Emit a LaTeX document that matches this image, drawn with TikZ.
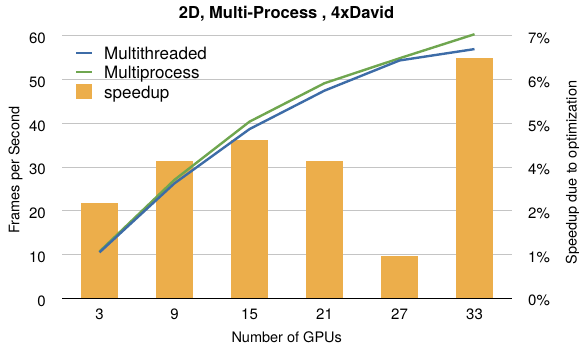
\documentclass[tikz,border=0pt]{standalone}
\usepackage{fontspec}
\setmainfont{TeX Gyre Heros}
\usepackage{tikz}
\usetikzlibrary{positioning}
\definecolor{mtblue}{HTML}{3D6CA7}
\definecolor{mpgreen}{HTML}{6FA64F}
\definecolor{spdorange}{HTML}{ECAE4B}
\definecolor{gridgray}{HTML}{C4C4C4}

\begin{document}
\begin{tikzpicture}[x=1pt, y=1pt,
    gridline/.style={draw=gridgray, line width=1pt},
    baseline/.style={draw=black, line width=1.1pt},
    bar/.style={fill=spdorange},
    mthread/.style={draw=mtblue, line width=2.4pt, line join=round},
    mproc/.style={draw=mpgreen, line width=2.4pt, line join=round},
    ticklabel/.style={font=\fontsize{15}{18}\selectfont, inner sep=0pt},
    axislabel/.style={font=\fontsize{14.5}{17}\selectfont, inner sep=0pt},
    legtext/.style={font=\fontsize{17}{20}\selectfont, inner sep=0pt, anchor=base west},
    charttitle/.style={font=\fontsize{16.5}{20}\selectfont\bfseries, inner sep=0pt, anchor=base}
]
\useasboundingbox (0,0) rectangle (579,349);

% Title
\node[charttitle] (title) at (286.5,330.7) {2D, Multi-Process , 4xDavid};

\begin{scope}[shift={(24.5,50.7)}, x=75pt, y=4.372pt]
% Grid lines
\foreach \v in {10,20,...,60}
    \draw[gridline] (0.5,\v) -- (6.5,\v);

% Speedup bars
\foreach \i/\v in {1/21.8, 2/31.4, 3/36.2, 4/31.4, 5/9.75, 6/55.0}
    \fill[bar] (\i-0.245,0) rectangle (\i+0.245,\v);

% Horizontal axis
\draw[baseline] (0.5,0) -- (6.5,0);

% Frame rate curves
\draw[mproc] (1,10.7) -- (2,27.1) -- (3,40.4) -- (4,49.2) -- (5,54.9) -- (6,60.4);
\draw[mthread] (1,10.5) -- (2,26.3) -- (3,38.7) -- (4,47.5) -- (5,54.4) -- (6,57.0);

% Left tick labels
\foreach \v in {0,10,...,60}
    \node[ticklabel, anchor=east] (yl\v) at ([xshift=-16pt, yshift=-2.5pt]0.5,\v) {\v};

% Right tick labels
\foreach \v/\p in {0/0, 10/1, 20/2, 30/4, 40/5, 50/6, 60/7}
    \node[ticklabel, anchor=west] (yr\v) at ([xshift=16pt, yshift=-2.5pt]6.5,\v) {\p\%};

% Category labels
\foreach \i/\n in {1/3, 2/9, 3/15, 4/21, 5/27, 6/33}
    \node[ticklabel] (xl\i) at ([yshift=-16.2pt]\i,0) {\n};
\end{scope}

% Axis titles
\node[axislabel, anchor=base] (xtitle) at (286.7,6.7) {Number of GPUs};
\node[axislabel, anchor=base, rotate=90] (ytitle) at (19.3,179) {Frames per Second};
\node[axislabel, anchor=base, rotate=90] (y2title) at (576.5,176.5) {Speedup due to optimization};

% Legend
\node[legtext] (legmt) at (104,290) {Multithreaded};
\node[legtext] (legmp) at (104,270.7) {Multiprocess};
\node[legtext] (legsp) at (104,250.7) {speedup};
\draw[mthread] (76,295.7) -- (92,295.7);
\draw[mproc] (76,276.7) -- (92,276.7);
\fill[bar] (76,249.7) rectangle (92,265);

\end{tikzpicture}
\end{document}
